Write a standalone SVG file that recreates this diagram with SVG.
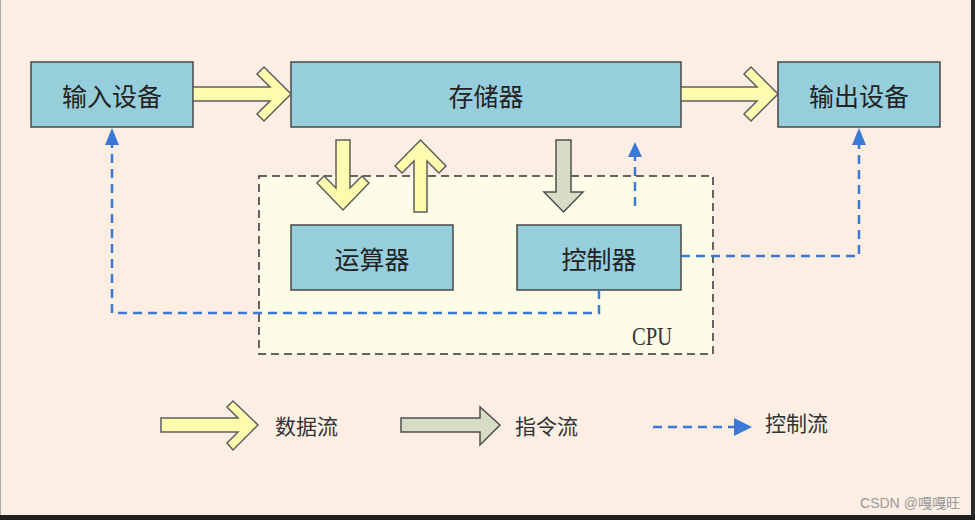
<svg xmlns="http://www.w3.org/2000/svg" width="975" height="520" viewBox="0 0 975 520">
<style>
.box{fill:#96CEDC;stroke:#474747;stroke-width:1.5}
.lbl{font-family:"Noto Sans CJK SC","Noto Sans",sans-serif;font-size:25px;fill:#222;text-anchor:middle;dominant-baseline:central}
.leg{font-family:"Noto Sans CJK SC","Noto Sans",sans-serif;font-size:21px;fill:#333;dominant-baseline:central}
.data{fill:#FCFBAE;stroke:#5f5f5f;stroke-width:1.5;stroke-linejoin:miter}
.instr{fill:#D7DCC5;stroke:#4f4f4f;stroke-width:1.5}
.ctl{fill:none;stroke:#3A7AD6;stroke-width:2.5;stroke-dasharray:9,6}
.ctlhead{fill:#3A7AD6;stroke:none}
</style>
<rect x="0" y="0" width="975" height="520" fill="#FCEEE3"/>
<line x1="0.5" y1="0" x2="0.5" y2="515" stroke="#aaa" stroke-width="1"/>
<rect x="971" y="0" width="4" height="520" fill="#2a2a2a"/>
<rect x="0" y="515" width="975" height="5" fill="#1f1f1f"/>

<g id="cpu">
<rect x="259" y="176" width="454" height="178" fill="#FDFCE7" stroke="#333" stroke-width="1.5" stroke-dasharray="8,5"/>
<text x="652" y="345" font-family="Liberation Serif,serif" font-size="25" fill="#333" text-anchor="middle" textLength="40" lengthAdjust="spacingAndGlyphs">CPU</text>
</g>

<g id="input">
<rect class="box" x="31" y="62" width="162" height="65"/>
<text class="lbl" x="112" y="94.5">输入设备</text>
</g>
<g id="memory">
<rect class="box" x="291" y="62" width="390" height="65"/>
<text class="lbl" x="486" y="94.5">存储器</text>
</g>
<g id="output">
<rect class="box" x="778" y="62" width="162" height="65"/>
<text class="lbl" x="859" y="94.5">输出设备</text>
</g>
<g id="alu">
<rect class="box" x="291" y="225" width="162" height="65"/>
<text class="lbl" x="372" y="257.5">运算器</text>
</g>
<g id="control">
<rect class="box" x="517" y="225" width="164" height="65"/>
<text class="lbl" x="599" y="257.5">控制器</text>
</g>

<g id="connectors">
<polygon class="data" points="193,87 270,87 257,74 264,67 291,94 264,121 257,114 270,101 193,101"/>
<polygon class="data" points="681,87 757,87 744,74 751,67 778,94 751,121 744,114 757,101 681,101"/>
<polygon class="data" points="336,140 350,140 350,188 362,176 369,183 343,210 317,183 324,176 336,188"/>
<polygon class="data" points="414,212 427,212 427,161 439,173 446,166 420.5,140 395,166 402,173 414,161"/>
<polygon class="instr" points="556,140 571,140 571,192 583,192 563.5,212 544,192 556,192"/>
<line class="ctl" x1="635" y1="206" x2="635" y2="156"/>
<polygon class="ctlhead" points="635,142 628,157 642,157"/>
<polyline class="ctl" points="599,290 599,313 112,313 112,144"/>
<polygon class="ctlhead" points="112,128 105,145 119,145"/>
<polyline class="ctl" points="681,256 859,256 859,144"/>
<polygon class="ctlhead" points="859,128 852,145 866,145"/>
</g>

<g id="legend">
<polygon class="data" points="161,418 238,418 227,407 233,401 258,425 233,450 227,443 238,432 161,432"/>
<text class="leg" x="275" y="425">数据流</text>
<polygon class="instr" points="401,418 480,418 480,407 500,425 480,445 480,432 401,432"/>
<text class="leg" x="515" y="425">指令流</text>
<line class="ctl" x1="653" y1="427" x2="734" y2="427" stroke-dasharray="10,6"/>
<polygon class="ctlhead" points="752,427 734,418 734,436"/>
<text class="leg" x="765" y="422">控制流</text>
</g>

<text x="860" y="503" font-family="Liberation Sans,Arial,'Noto Sans CJK SC',sans-serif" font-size="14" fill="#9a9a9a" dominant-baseline="central" textLength="100" lengthAdjust="spacingAndGlyphs">CSDN @嘎嘎旺</text>
</svg>
